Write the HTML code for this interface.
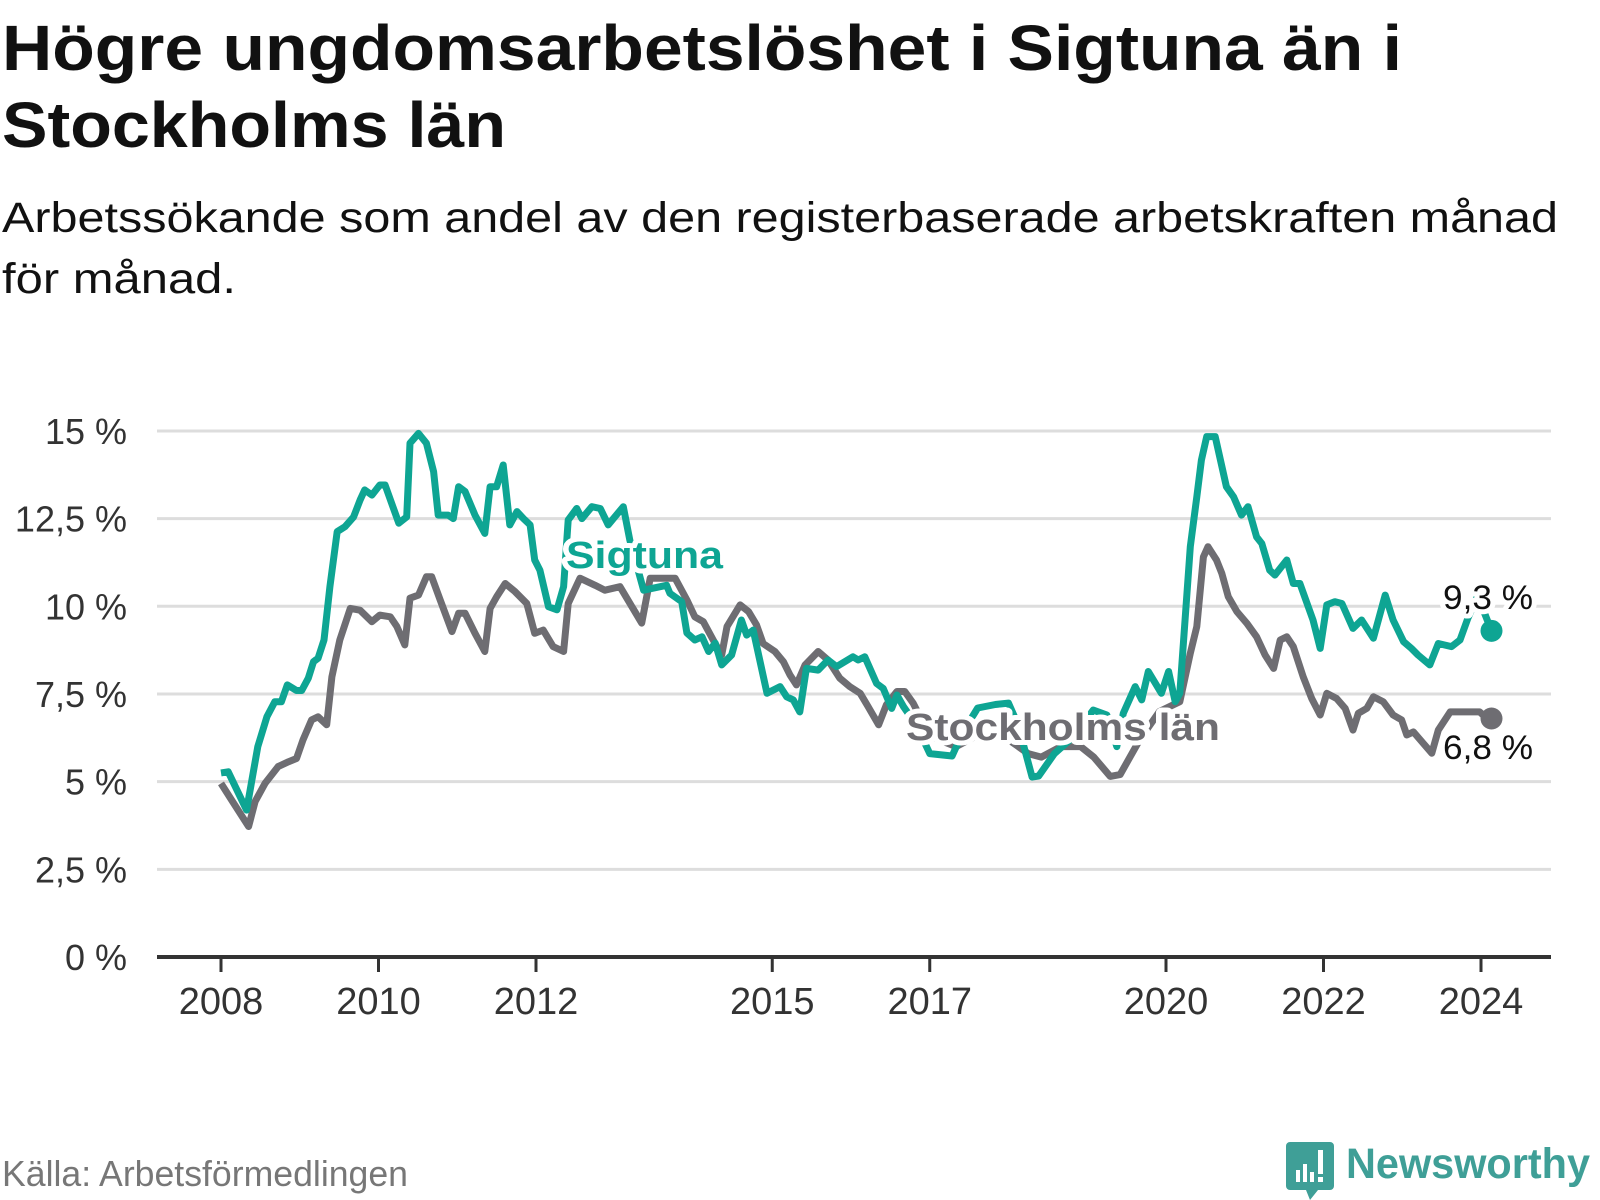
<!DOCTYPE html>
<html><head><meta charset="utf-8"><style>
html,body{margin:0;padding:0;background:#fff;}
svg{display:block;}
text{font-family:"Liberation Sans",sans-serif;}
</style></head><body>
<svg id="chart" width="1600" height="1200" viewBox="0 0 1600 1200" xmlns="http://www.w3.org/2000/svg">
<text x="2" y="70" font-size="64" font-weight="bold" fill="#111" textLength="1400" lengthAdjust="spacingAndGlyphs">Högre ungdomsarbetslöshet i Sigtuna än i</text>
<text x="2" y="147" font-size="64" font-weight="bold" fill="#111" textLength="504" lengthAdjust="spacingAndGlyphs">Stockholms län</text>
<text x="2" y="232" font-size="43" fill="#111" textLength="1556" lengthAdjust="spacingAndGlyphs">Arbetssökande som andel av den registerbaserade arbetskraften månad</text>
<text x="2" y="293" font-size="43" fill="#111" textLength="234" lengthAdjust="spacingAndGlyphs">för månad.</text>
<g id="grid"></g>
<g id="yticks"></g>
<g id="xticks"></g>
<g id="lines"></g>
<text x="2" y="1186" font-size="36" fill="#777" textLength="406" lengthAdjust="spacingAndGlyphs">Källa: Arbetsförmedlingen</text>
<g>
<path d="M1290 1142 h40 a4 4 0 0 1 4 4 v40 a4 4 0 0 1 -4 4 h-12 l-8 10 l-4 -10 h-16 a4 4 0 0 1 -4 -4 v-40 a4 4 0 0 1 4 -4z" fill="#3f9f97"/>
<rect x="1296" y="1170" width="4" height="12" fill="#fff"/><rect x="1303" y="1164" width="4" height="18" fill="#fff"/><rect x="1310" y="1172" width="4" height="10" fill="#fff"/><rect x="1318" y="1150" width="5" height="24" fill="#fff"/><rect x="1318" y="1177" width="5" height="5" fill="#fff"/>
<text x="1346" y="1178" font-size="43" font-weight="bold" fill="#3f9f97" textLength="244" lengthAdjust="spacingAndGlyphs">Newsworthy</text>
</g>
</svg>
<script>
const yTicks = [0, 2.5, 5, 7.5, 10, 12.5, 15];
const yTickLabels = ["0 %", "2,5 %", "5 %", "7,5 %", "10 %", "12,5 %", "15 %"];
const xTicks = [2008, 2010, 2012, 2015, 2017, 2020, 2022, 2024];
// months since Jan 2008
const sigtunaMonths = [0,1.1,3.9,5.6,7,8.2,9.2,10.1,11.5,12.3,13.3,14.1,14.8,15.7,16.6,17.7,18.9,20.2,21.2,21.9,23,24.2,25,26,27.1,28.3,28.8,30.1,31.3,32.4,33.1,34.6,35.4,36.2,37.2,38.7,40.2,41,42,43,44,45.1,46.1,47.1,47.8,48.6,49.9,51.2,52.2,52.9,54.2,55,56.5,57.8,59,61.3,62.3,64.4,67.9,68.4,70.2,71,72.2,73.3,74.3,75.3,76.3,77.8,79.3,80.1,81.1,83.2,85.2,86.2,87.2,88.2,89.2,91,92.5,93.8,96.3,97.1,98.1,99.9,100.9,102.2,103,104,106,108,111.4,113,115.3,118,120,121.5,123.6,124.6,127,130,132.9,135,136.5,137.5,139.3,140.3,141.3,143.3,144.4,145.4,146.1,147.7,148.7,149.4,150.2,151.5,153.2,154.3,155.5,156.5,157.8,158.6,159.8,160.6,162.4,163.4,164.4,166.4,167.5,168.5,169.7,170.8,172.5,173.8,175.6,177.4,178.6,180.2,181.4,182.4,184.2,185.5,187.5,188.8,190,191.5,193.6];
const sigtunaValues = [5.25,5.28,4.19,6.0,6.85,7.28,7.28,7.76,7.6,7.6,7.95,8.42,8.52,9.04,10.56,12.13,12.27,12.55,13.03,13.32,13.17,13.46,13.46,12.94,12.37,12.55,14.65,14.93,14.65,13.84,12.6,12.6,12.5,13.41,13.27,12.6,12.08,13.41,13.41,14.03,12.32,12.7,12.5,12.32,11.32,11.03,9.99,9.9,10.56,12.46,12.79,12.5,12.84,12.79,12.32,12.84,11.89,10.46,10.6,10.37,10.13,9.24,9.04,9.13,8.71,8.95,8.33,8.61,9.61,9.18,9.32,7.52,7.71,7.42,7.33,6.99,8.23,8.18,8.47,8.28,8.56,8.47,8.56,7.8,7.66,7.09,7.47,7.14,6.6,5.8,5.73,6.4,7.1,7.2,7.24,6.6,5.13,5.16,5.8,6.3,7.04,6.9,6.0,6.95,7.71,7.33,8.14,7.52,8.14,7.28,7.52,11.7,13.12,14.17,14.84,14.84,13.41,13.12,12.6,12.84,11.98,11.79,11.03,10.89,11.32,10.65,10.65,9.61,8.8,10.04,10.13,10.08,9.37,9.61,9.09,10.32,9.61,8.99,8.8,8.61,8.33,8.94,8.85,9.04,9.66,10.3,9.3];
const stockholmMonths = [0,1.6,4.2,5.2,6.7,8.7,10.3,11.5,12.5,13.8,14.8,16.1,16.9,18.1,19.7,21.2,23,24.2,25.8,26.8,28,28.8,30.1,31.3,32.1,33.4,35.2,36.2,37.2,38.7,40.2,41,42,43.3,44.8,46.6,47.8,49.1,50.6,52.2,52.9,54.7,57,58.5,60.8,64.1,65.4,69.2,71,72.2,73.5,75,76.3,77.1,79.1,80.4,81.6,82.6,84.4,85.7,86.7,87.7,89,91,92.5,94.3,95.8,97.4,98.6,100.2,101.4,103,104.2,105.5,108,112,116,120,123,125,128,131,133,135.5,137,140,143,146.1,147.7,148.7,149.7,150.4,151.7,152.5,153.5,154.8,156.3,157.8,159.1,160.4,161.4,162.4,163.4,164.9,166.2,167.5,168.5,170,171.3,172.5,173.3,174.6,175.6,177.1,178.6,179.9,180.7,181.7,183.2,184.5,185.5,187.3,191.8,192.9,193.6];
const stockholmValues = [4.95,4.48,3.72,4.43,4.95,5.43,5.57,5.66,6.19,6.76,6.85,6.62,7.99,9.04,9.94,9.89,9.56,9.75,9.7,9.42,8.9,10.23,10.32,10.84,10.84,10.18,9.28,9.8,9.8,9.23,8.71,9.94,10.27,10.65,10.42,10.08,9.23,9.32,8.85,8.71,10.08,10.8,10.6,10.46,10.56,9.52,10.8,10.8,10.18,9.7,9.56,9.04,8.61,9.42,10.04,9.85,9.47,8.94,8.71,8.42,8.04,7.76,8.33,8.71,8.47,7.95,7.71,7.52,7.14,6.62,7.19,7.57,7.57,7.23,6.3,6.0,6.4,6.2,5.8,5.7,6.0,6.0,5.7,5.15,5.2,6.2,7.0,7.28,8.66,9.42,11.41,11.7,11.32,10.94,10.27,9.85,9.52,9.13,8.61,8.23,9.04,9.13,8.85,7.99,7.37,6.9,7.52,7.37,7.09,6.47,6.95,7.09,7.42,7.28,6.9,6.76,6.33,6.42,6.09,5.81,6.47,6.99,6.99,6.8,6.8];

const NS = "http://www.w3.org/2000/svg";
const X0 = 221, PXYEAR = 78.75, Y0 = 957, PXPCT = 35.07, XL = 157, XR = 1551;
const xOfYear = y => X0 + (y - 2008) * PXYEAR;
const xOfMonth = m => X0 + m * PXYEAR / 12;
const yOf = v => Y0 - v * PXPCT;
function mk(tag, attrs, parent){const e=document.createElementNS(NS,tag);for(const k in attrs)e.setAttribute(k,attrs[k]);parent.appendChild(e);return e;}
const grid=document.getElementById('grid'), yt=document.getElementById('yticks'), xt=document.getElementById('xticks'), lines=document.getElementById('lines');
yTicks.forEach((v,i)=>{
  if(v>0){const g=mk('line',{x1:XL,x2:XR,y1:yOf(v),y2:yOf(v),stroke:'#dddddd','stroke-width':3},grid);
  
  }
  const t=mk('text',{x:127,y:yOf(v)+13,'text-anchor':'end','font-size':36,fill:'#333'},yt);
  t.textContent=yTickLabels[i];
  
  
});
const ax=mk('line',{x1:XL,x2:XR,y1:Y0,y2:Y0,stroke:'#333','stroke-width':4},xt);


xTicks.forEach(yr=>{
  const x=xOfYear(yr);
  const tk=mk('line',{x1:x,x2:x,y1:Y0,y2:Y0+15,stroke:'#333','stroke-width':3},xt);
  
  
  const t=mk('text',{x:x,y:1014,'text-anchor':'middle','font-size':38,fill:'#333'},xt);
  t.textContent=String(yr);
  
  
});
function pathOf(ms,vs){return ms.map((m,i)=>(i?'L':'M')+xOfMonth(m).toFixed(1)+' '+yOf(vs[i]).toFixed(1)).join(' ');}
const gl=mk('path',{d:pathOf(stockholmMonths,stockholmValues),fill:'none',stroke:'#6e6d72','stroke-width':7,'stroke-linejoin':'round'},lines);


const tl=mk('path',{d:pathOf(sigtunaMonths,sigtunaValues),fill:'none',stroke:'#0ea593','stroke-width':7,'stroke-linejoin':'round'},lines);


const ls=stockholmMonths.length-1, lt=sigtunaMonths.length-1;
const d1=mk('circle',{cx:xOfMonth(stockholmMonths[ls]),cy:yOf(stockholmValues[ls]),r:11,fill:'#6e6d72'},lines);


const d2=mk('circle',{cx:xOfMonth(sigtunaMonths[lt]),cy:yOf(sigtunaValues[lt]),r:11,fill:'#0ea593'},lines);


function label(txt,x,y,size,weight,fill,name,len){
  const h=mk('text',{x:x,y:y,'font-size':size,'font-weight':weight,fill:'none',stroke:'#fff','stroke-width':10,'stroke-linejoin':'round',textLength:len,lengthAdjust:'spacingAndGlyphs'},lines);
  h.textContent=txt;
  
  
  const t=mk('text',{x:x,y:y,'font-size':size,'font-weight':weight,fill:fill,textLength:len,lengthAdjust:'spacingAndGlyphs'},lines);
  t.textContent=txt;
  
  
}
label('Sigtuna',566,568,38,'bold','#0ea593','sigtuna-label',157);
label('Stockholms län',906,740,38,'bold','#6e6d72','stockholm-label',314);
label('9,3 %',1443,609,34,'normal','#111','sigtuna-value-label',90);
label('6,8 %',1443,759,34,'normal','#111','stockholm-value-label',90);
</script>
</body></html>
